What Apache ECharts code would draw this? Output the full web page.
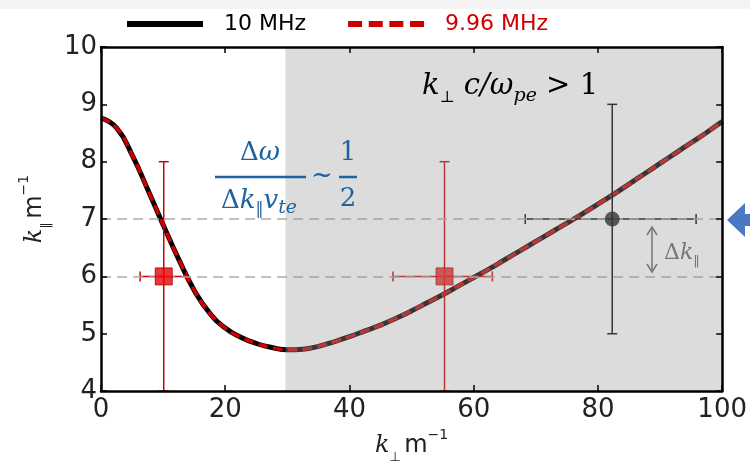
<!DOCTYPE html>
<html><head><meta charset="utf-8">
<script src="https://cdn.jsdelivr.net/npm/echarts@6/dist/echarts.min.js"></script>
<style>html,body{margin:0;padding:0;background:#fff}#c{width:750px;height:469px}</style>
</head><body><div id="c"></div>
<script>
// ---- data ----
const kPerp = [0,2.5,5,7.5,10,12.5,15,17.5,20,22.5,25,27.5,30,32.5,35,37.5,40,42.5,45,47.5,50,52.5,55,57.5,60,62.5,65,67.5,70,72.5,75,77.5,80,82.5,85,87.5,90,92.5,95,97.5,100];
const kPar10MHz = [8.76,8.59,8.12,7.52,6.90,6.30,5.76,5.36,5.10,4.94,4.83,4.76,4.72,4.73,4.78,4.86,4.95,5.05,5.15,5.27,5.40,5.54,5.68,5.83,5.98,6.13,6.29,6.45,6.61,6.77,6.93,7.09,7.26,7.43,7.61,7.79,7.97,8.15,8.33,8.51,8.70];
const kPar996MHz = [8.76,8.59,8.12,7.52,6.90,6.30,5.76,5.36,5.10,4.94,4.83,4.76,4.72,4.73,4.78,4.86,4.95,5.05,5.15,5.27,5.40,5.54,5.68,5.83,5.98,6.13,6.29,6.45,6.61,6.77,6.93,7.09,7.26,7.43,7.61,7.79,7.97,8.15,8.33,8.51,8.70];

const redX = [10.1, 55.3];
const redY = [6, 6];
const redXLo = [6.3, 47.0];
const redXHi = [13.8, 63.0];
const redYLo = [4, 4];
const redYHi = [8, 8];

const blackX = [82.3];
const blackY = [7];
const blackXLo = [68.3];
const blackXHi = [95.8];
const blackYLo = [5];
const blackYHi = [9];

const refLevels = [7, 6];
const shadedRange = [29.7, 100];   // k_perp c/omega_pe > 1 region

const xTicks = [0, 20, 40, 60, 80, 100];
const yTicks = [4, 5, 6, 7, 8, 9, 10];

const seriesNames = ['10 MHz', '9.96 MHz'];

// ---- build ----
const RED = '#cc0000';
const chart = echarts.init(document.getElementById('c'), null, {renderer: 'canvas'});

function zip(xs, ys) { return xs.map((x, i) => [x, ys[i]]); }
function errRows(x, y, xl, xh, yl, yh) { return x.map((v, i) => [v, y[i], xl[i], xh[i], yl[i], yh[i]]); }

function errRender(color) {
  return function (params, api) {
    const x = api.value(0), y = api.value(1);
    const l = api.coord([api.value(2), y]);
    const r = api.coord([api.value(3), y]);
    const b = api.coord([x, api.value(4)]);
    const t = api.coord([x, api.value(5)]);
    const cap = 5;
    const st = {stroke: color, lineWidth: 1.5};
    const ln = (x1, y1, x2, y2) => ({type: 'line', shape: {x1, y1, x2, y2}, style: st});
    return {type: 'group', children: [
      ln(l[0], l[1], r[0], r[1]),
      ln(l[0], l[1] - cap, l[0], l[1] + cap),
      ln(r[0], r[1] - cap, r[0], r[1] + cap),
      ln(b[0], b[1], t[0], t[1]),
      ln(t[0] - cap, t[1], t[0] + cap, t[1]),
      ln(b[0] - cap, b[1], b[0] + cap, b[1])
    ]};
  };
}

const axisCommon = {
  axisLine: {show: true, onZero: false, lineStyle: {color: '#000', width: 2.5}},
  axisTick: {show: true, inside: true, length: 6, lineStyle: {color: '#000', width: 1.5}},
  splitLine: {show: false},
  z: 20
};
const labelFont = {fontFamily: 'DejaVu Sans', fontSize: 26, color: '#222'};
const nameRich = {
  k: {fontFamily: 'DejaVu Serif', fontStyle: 'italic', fontSize: 24, lineHeight: 36, verticalAlign: 'middle', color: '#222'},
  sub: {fontFamily: 'DejaVu Sans', fontSize: 13, lineHeight: 14, verticalAlign: 'bottom', color: '#222'},
  m: {fontFamily: 'DejaVu Sans', fontSize: 24, lineHeight: 36, verticalAlign: 'middle', color: '#222'},
  sup: {fontFamily: 'DejaVu Sans', fontSize: 14, lineHeight: 16, verticalAlign: 'top', color: '#222'}
};

const option = {
  animation: false,
  backgroundColor: '#fff',
  grid: {left: 101, right: 26, top: 47, bottom: 76},
  legend: {
    data: [
      {name: seriesNames[0], textStyle: {color: '#000'}, icon: 'path://M0,0H76V6H0Z'},
      {name: seriesNames[1], textStyle: {color: RED},
       icon: 'path://M0,0H14V6H0Z M20.7,0H34.7V6H20.7Z M41.3,0H55.3V6H41.3Z M62,0H76V6H62Z'}
    ],
    left: 122, top: 6, itemWidth: 76, itemHeight: 6, itemGap: 42,
    selectedMode: false,
    textStyle: {fontFamily: 'DejaVu Sans', fontSize: 22, padding: [0, 0, 0, 16], lineHeight: 26}
  },
  xAxis: [
    Object.assign({}, axisCommon, {
      type: 'value', position: 'bottom', min: xTicks[0], max: xTicks[xTicks.length - 1], interval: 20,
      axisLabel: Object.assign({margin: 6}, labelFont),
      name: '{k|k}{sub|⊥} {m|m}{sup|−1}', nameLocation: 'middle', nameGap: 30,
      nameTextStyle: {rich: nameRich}
    }),
    Object.assign({}, axisCommon, {
      type: 'value', position: 'top', min: xTicks[0], max: xTicks[xTicks.length - 1], interval: 20,
      axisLabel: {show: false}
    })
  ],
  yAxis: [
    Object.assign({}, axisCommon, {
      type: 'value', position: 'left', min: yTicks[0], max: yTicks[yTicks.length - 1], interval: 1,
      axisLabel: Object.assign({margin: 4}, labelFont),
      name: '{k|k}{sub|‖} {m|m}{sup|−1}', nameLocation: 'middle', nameGap: 48, nameRotate: 90,
      nameTextStyle: {rich: nameRich, padding: [0, 0, 0, 20]}
    }),
    Object.assign({}, axisCommon, {
      type: 'value', position: 'right', min: yTicks[0], max: yTicks[yTicks.length - 1], interval: 1,
      axisLabel: {show: false}
    })
  ],
  series: [
    {
      name: 'ref', type: 'line', data: [], z: 1, silent: true,
      markLine: {
        silent: true, symbol: ['none', 'none'], label: {show: false},
        lineStyle: {color: '#aaaaaa', type: [10, 6], width: 1.5},
        data: refLevels.map(v => ({yAxis: v}))
      }
    },
    {
      name: seriesNames[0], type: 'line', data: zip(kPerp, kPar10MHz), smooth: 0.5,
      showSymbol: false, symbol: 'none', z: 2,
      lineStyle: {color: '#000', width: 5}, itemStyle: {color: '#000'}
    },
    {
      name: seriesNames[1], type: 'line', data: zip(kPerp, kPar996MHz), smooth: 0.5,
      showSymbol: false, symbol: 'none', z: 3,
      lineStyle: {color: RED, width: 3.5, type: [10, 5]}, itemStyle: {color: RED}
    },
    {
      name: 'errRed', type: 'custom', z: 4, silent: true,
      data: errRows(redX, redY, redXLo, redXHi, redYLo, redYHi),
      renderItem: errRender('#cc0000'), clip: true
    },
    {
      name: 'errBlack', type: 'custom', z: 4, silent: true,
      data: errRows(blackX, blackY, blackXLo, blackXHi, blackYLo, blackYHi),
      renderItem: errRender('#000000'), clip: true
    },
    {
      name: 'ptsRed', type: 'scatter', z: 5, symbol: 'rect', symbolSize: 17,
      data: zip(redX, redY),
      itemStyle: {color: '#e80000', borderColor: '#a00000', borderWidth: 1}
    },
    {
      name: 'ptsBlack', type: 'scatter', z: 5, symbol: 'circle', symbolSize: 15,
      data: zip(blackX, blackY),
      itemStyle: {color: '#000'}
    },
    {
      name: 'shade', type: 'custom', z: 10, silent: true,
      data: [[shadedRange[0], shadedRange[1], yTicks[yTicks.length - 1], yTicks[0]]],
      renderItem: function (params, api) {
        const p0 = api.coord([api.value(0), api.value(2)]);
        const p1 = api.coord([api.value(1), api.value(3)]);
        return {type: 'rect', shape: {x: p0[0], y: p0[1], width: p1[0] - p0[0], height: p1[1] - p0[1]},
                style: {fill: 'rgba(155,155,155,0.35)'}};
      }
    }
  ],
  graphic: [
    {type: 'rect', shape: {x: 0, y: 0, width: 750, height: 9}, style: {fill: '#f4f4f4'}, z: 0},
    // k_perp c / omega_pe > 1
    {type: 'text', x: 422, y: 86, z: 30, style: {
      text: '{i|k}{s|⊥}{i| c/ω}{si|pe}{n| > 1}', fill: '#000', verticalAlign: 'middle', align: 'left',
      rich: {
        i: {fontFamily: 'DejaVu Serif', fontStyle: 'italic', fontSize: 29, lineHeight: 40, verticalAlign: 'middle', fill: '#000'},
        s: {fontFamily: 'DejaVu Serif', fontSize: 16, lineHeight: 16, verticalAlign: 'bottom', fill: '#000'},
        si: {fontFamily: 'DejaVu Serif', fontStyle: 'italic', fontSize: 19, lineHeight: 18, verticalAlign: 'bottom', fill: '#000'},
        n: {fontFamily: 'DejaVu Serif', fontSize: 29, lineHeight: 40, verticalAlign: 'middle', fill: '#000'}
      }}},
    // blue fraction
    {type: 'text', x: 260, y: 153, z: 30, style: {
      text: '{n|Δ}{i|ω}', fill: '#1f62a0', align: 'center', verticalAlign: 'middle',
      rich: {
        n: {fontFamily: 'DejaVu Serif', fontSize: 26, fill: '#1f62a0'},
        i: {fontFamily: 'DejaVu Serif', fontStyle: 'italic', fontSize: 26, fill: '#1f62a0'}
      }}},
    {type: 'line', z: 30, shape: {x1: 215, y1: 177, x2: 306, y2: 177}, style: {stroke: '#1f62a0', lineWidth: 2.5}},
    {type: 'text', x: 259, y: 201, z: 30, style: {
      text: '{n|Δ}{i|k}{s|‖}{i|v}{si|te}', fill: '#1f62a0', align: 'center', verticalAlign: 'middle',
      rich: {
        n: {fontFamily: 'DejaVu Serif', fontSize: 26, lineHeight: 34, verticalAlign: 'middle', fill: '#1f62a0'},
        i: {fontFamily: 'DejaVu Serif', fontStyle: 'italic', fontSize: 26, lineHeight: 34, verticalAlign: 'middle', fill: '#1f62a0'},
        s: {fontFamily: 'DejaVu Serif', fontSize: 16, lineHeight: 15, verticalAlign: 'bottom', fill: '#1f62a0'},
        si: {fontFamily: 'DejaVu Serif', fontStyle: 'italic', fontSize: 19, lineHeight: 17, verticalAlign: 'bottom', fill: '#1f62a0'}
      }}},
    {type: 'text', x: 322, y: 176, z: 30, style: {text: '~', fill: '#1f62a0', align: 'center', verticalAlign: 'middle',
      font: '26px "DejaVu Serif"'}},
    {type: 'text', x: 348, y: 153, z: 30, style: {text: '1', fill: '#1f62a0', align: 'center', verticalAlign: 'middle',
      font: '26px "DejaVu Serif"'}},
    {type: 'line', z: 30, shape: {x1: 339, y1: 177, x2: 357, y2: 177}, style: {stroke: '#1f62a0', lineWidth: 2.5}},
    {type: 'text', x: 348, y: 199, z: 30, style: {text: '2', fill: '#1f62a0', align: 'center', verticalAlign: 'middle',
      font: '26px "DejaVu Serif"'}},
    // delta k_parallel
    {type: 'line', z: 30, shape: {x1: 652, y1: 227, x2: 652, y2: 272}, style: {stroke: '#777', lineWidth: 1.5}},
    {type: 'polyline', z: 30, shape: {points: [[647, 235], [652, 227], [657, 235]]}, style: {stroke: '#777', lineWidth: 1.5, fill: null}},
    {type: 'polyline', z: 30, shape: {points: [[647, 264], [652, 272], [657, 264]]}, style: {stroke: '#777', lineWidth: 1.5, fill: null}},
    {type: 'text', x: 664, y: 253, z: 30, style: {
      text: '{n|Δ}{i|k}{s|‖}', fill: '#777', align: 'left', verticalAlign: 'middle',
      rich: {
        n: {fontFamily: 'DejaVu Serif', fontSize: 22, lineHeight: 30, verticalAlign: 'middle', fill: '#777'},
        i: {fontFamily: 'DejaVu Serif', fontStyle: 'italic', fontSize: 22, lineHeight: 30, verticalAlign: 'middle', fill: '#777'},
        s: {fontFamily: 'DejaVu Sans', fontSize: 13, lineHeight: 13, verticalAlign: 'bottom', fill: '#777'}
      }}},
    // blue arrow on right
    {type: 'polygon', z: 30, shape: {points: [[727, 220], [745, 203], [745, 214], [750, 214], [750, 226], [745, 226], [745, 237]]},
      style: {fill: '#4a78c2'}}
  ]
};
chart.setOption(option);
</script>
</body></html>
